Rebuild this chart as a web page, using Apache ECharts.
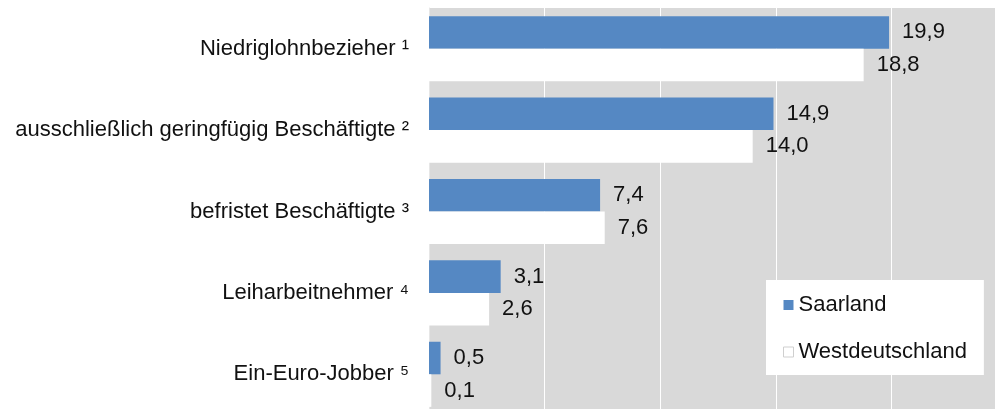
<!DOCTYPE html>
<html>
<head>
<meta charset="utf-8">
<script src="https://cdn.jsdelivr.net/npm/echarts@6/dist/echarts.min.js"></script>
<style>
  html, body { margin: 0; padding: 0; background: #fff; }
  #chart { width: 995px; height: 409px; }
</style>
</head>
<body>
<div id="chart"></div>
<script>
  // Daten
  const categories = [
    'Niedriglohnbezieher \u00b9',
    'ausschließlich geringfügig Beschäftigte \u00b2',
    'befristet Beschäftigte \u00b3',
    'Leiharbeitnehmer \u2074',
    'Ein-Euro-Jobber \u2075'
  ]
  const saarland = [19.9, 14.9, 7.4, 3.1, 0.5]
  const westdeutschland = [18.8, 14.0, 7.6, 2.6, 0.1]
  const seriesNames = ['Saarland', 'Westdeutschland']

  const font = '"Liberation Sans", Arial, sans-serif'
  const fmt = p => p.value.toFixed(1).replace('.', ',')

  const chart = echarts.init(document.getElementById('chart'))
  const option = {
    animation: false,
    textStyle: { fontFamily: font },
    grid: {
      left: 429,
      top: 8,
      right: -12,
      bottom: -6,
      show: true,
      backgroundColor: '#d9d9d9',
      borderWidth: 0,
      containLabel: false,
      outerBoundsMode: 'none'
    },
    xAxis: {
      type: 'value',
      min: 0,
      max: 25,
      interval: 5,
      axisLabel: { show: false },
      axisLine: { show: false },
      axisTick: { show: false },
      splitLine: { lineStyle: { color: '#ffffff', width: 1 } }
    },
    yAxis: {
      type: 'category',
      data: categories,
      inverse: true,
      axisTick: { show: false },
      axisLine: { show: true, lineStyle: { color: '#e6e6e6' } },
      axisLabel: {
        margin: 20,
        color: '#111',
        fontSize: 22,
        fontFamily: font
      }
    },
    legend: {
      orient: 'vertical',
      left: 766,
      top: 280,
      padding: [14, 17, 12, 17],
      backgroundColor: '#ffffff',
      itemWidth: 10,
      itemHeight: 10,
      itemGap: 25,
      icon: 'rect',
      textStyle: { fontSize: 22, color: '#111', fontFamily: font },
      data: [
        { name: seriesNames[0] },
        { name: seriesNames[1], itemStyle: { color: '#ffffff', borderColor: '#cfcfcf', borderWidth: 1 } }
      ]
    },
    series: [
      {
        name: seriesNames[0],
        type: 'bar',
        data: saarland,
        barGap: '0%',
        barCategoryGap: '20%',
        itemStyle: { color: '#5588c3' },
        label: {
          show: true,
          position: 'right',
          distance: 13,
          fontSize: 22,
          color: '#111',
          fontFamily: font,
          formatter: fmt
        }
      },
      {
        name: seriesNames[1],
        type: 'bar',
        data: westdeutschland,
        barGap: '0%',
        barCategoryGap: '20%',
        itemStyle: { color: '#ffffff' },
        label: {
          show: true,
          position: 'right',
          distance: 13,
          fontSize: 22,
          color: '#111',
          fontFamily: font,
          formatter: fmt
        }
      }
    ]
  }
  chart.setOption(option)
</script>
</body>
</html>
